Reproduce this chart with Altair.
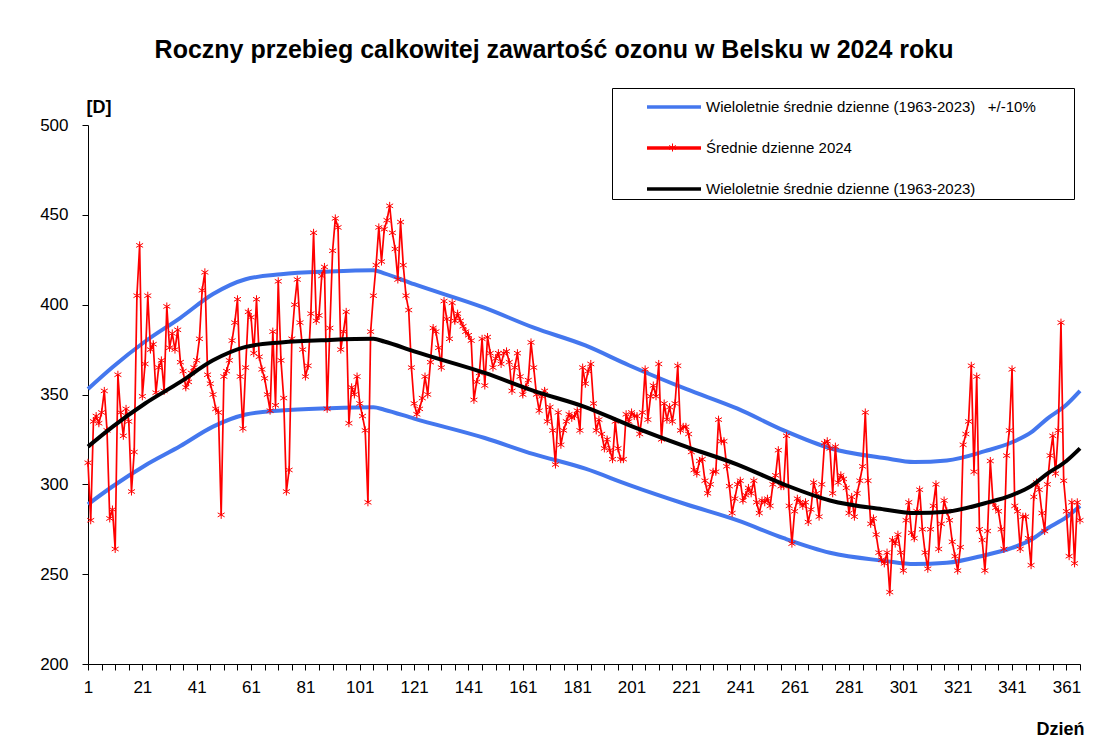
import altair as alt
import pandas as pd

LBL_BLUE = "Wieloletnie średnie dzienne (1963-2023)\u00a0\u00a0\u00a0+/-10%"
LBL_RED = "Średnie dzienne 2024"
LBL_BLACK = "Wieloletnie średnie dzienne (1963-2023)"

TITLE = "Roczny przebieg calkowitej zawartość ozonu w Belsku w 2024 roku"

days = list(range(1, 367))
ozone_2024 = [
    312, 280, 335, 338, 334, 340, 352, 330, 281, 286,
    264, 361, 340, 327, 342, 335, 296, 318, 405, 433,
    349, 367, 405, 375, 378, 351, 365, 369, 352, 399,
    376, 384, 375, 386, 368, 363, 354, 357, 362, 365,
    369, 381, 408, 418, 361, 356, 350, 342, 340, 283,
    360, 363, 369, 380, 390, 403, 360, 331, 365, 396,
    393, 373, 403, 371, 364, 359, 350, 341, 385, 344,
    413, 369, 348, 296, 308, 381, 400, 414, 390, 375,
    360, 366, 395, 440, 391, 394, 416, 421, 342, 387,
    430, 448, 443, 375, 385, 396, 334, 354, 350, 360,
    345, 338, 330, 290, 385, 405, 422, 443, 424, 442,
    447, 455, 440, 431, 414, 446, 422, 405, 397, 365,
    345, 339, 342, 348, 360, 350, 368, 387, 385, 376,
    365, 402, 392, 381, 401, 391, 395, 391, 388, 385,
    383, 380, 347, 357, 362, 381, 355, 382, 373, 365,
    370, 373, 367, 373, 374, 368, 352, 365, 373, 360,
    350, 354, 358, 379, 365, 350, 341, 349, 352, 335,
    343, 330, 311, 340, 322, 330, 335, 339, 337, 338,
    341, 330, 365, 356, 363, 367, 345, 330, 336, 328,
    320, 325, 319, 314, 335, 320, 314, 314, 339, 335,
    340, 338, 338, 328, 340, 364, 336, 349, 355, 349,
    367, 325, 345, 336, 343, 335, 345, 366, 330, 332,
    332, 328, 318, 308, 306, 313, 314, 302, 295, 300,
    307, 307, 336, 324, 324, 310, 299, 284, 292, 300,
    302, 291, 294, 298, 295, 302, 290, 284, 291, 290,
    292, 288, 300, 305, 319, 299, 299, 327, 288, 267,
    285, 292, 290, 288, 290, 279, 286, 301, 295, 282,
    300, 323, 324, 320, 295, 321, 301, 305, 303, 298,
    284, 293, 282, 295, 302, 310, 340, 302, 278, 281,
    272, 262, 258, 256, 262, 240, 269, 267, 272, 262,
    252, 280, 290, 273, 270, 285, 297, 275, 262, 253,
    275, 288, 300, 264, 278, 291, 285, 280, 268, 260,
    252, 265, 322, 328, 335, 366, 307, 360, 275, 269,
    252, 274, 313, 290, 287, 285, 275, 264, 316, 330,
    364, 288, 285, 264, 282, 282, 270, 255, 293, 301,
    297, 284, 274, 300, 316, 327, 306, 330, 390, 302,
    285, 260, 290, 256, 290, 280,
]

mean_days = [1, 10, 22, 35, 47, 59, 72, 90, 106, 110, 121, 147, 165, 184,
             200, 221, 240, 257, 274, 294, 305, 317, 331, 341, 348, 354, 361, 366]
mean_vals = [321, 332, 345, 357, 369, 376.5, 379, 380.4, 381, 379.5, 374, 362,
             352, 343, 333, 321, 311, 300, 291, 286, 284, 284.8, 289.5, 294,
             299, 306, 313, 320]

x_tick_values = list(range(1, 367, 5))
y_tick_values = [200, 250, 300, 350, 400, 450, 500]

ASTERISK = "M0,-1L0,1M-0.87,-0.5L0.87,0.5M-0.87,0.5L0.87,-0.5"
LEGEND_LINE = "M-1.8,0L1.8,0"

ozone_df = pd.DataFrame({"day": days, "value": ozone_2024})
ozone_df["series"] = LBL_RED
mean_df = pd.DataFrame({"day": mean_days, "mean": mean_vals})

FONT = "Liberation Sans"

color_scale = alt.Scale(domain=[LBL_BLUE, LBL_RED, LBL_BLACK],
                        range=["#4477EE", "#FF0000", "#000000"])

legend = alt.Legend(
    orient="none", legendX=524, legendY=-37,
    title=".", titleOrient="right", titleColor="white", titleFontSize=8,
    titlePadding=33,
    strokeColor="black", fillColor="white", padding=2,
    symbolType=LEGEND_LINE, symbolSize=900, symbolStrokeWidth=3.5,
    symbolOffset=43, labelOffset=15, rowPadding=16,
    labelFont=FONT, labelFontSize=15, labelColor="black", labelLimit=700,
)

star_legend = alt.Legend(
    orient="none", legendX=580, legendY=18, title=None, padding=0,
    symbolSize=64, symbolStrokeWidth=1, symbolStrokeColor="#FF0000",
    symbolFillColor="transparent", labelExpr="''", labelFontSize=8,
    symbolOffset=0, labelOffset=0,
)

x_enc = alt.X(
    "day:Q",
    scale=alt.Scale(domain=[1, 366], nice=False, zero=False),
    axis=alt.Axis(
        values=x_tick_values, format="d",
        labelExpr="((datum.value - 1) % 20 == 0) ? datum.label : ''",
        labelOverlap=False, labelFlush=False, tickSize=6, labelPadding=9,
        title="Dzień", titleAnchor="end", titleAlign="right", titleX=996,
        titleY=70, titleBaseline="alphabetic",
    ),
)
y_scale = alt.Scale(domain=[200, 500], nice=False, zero=False)
y_axis = alt.Axis(
    values=y_tick_values, tickSize=6, labelPadding=14,
    title="[D]", titleAngle=0, titleAlign="left", titleX=-2, titleY=-13,
    titleBaseline="alphabetic",
)


def series_color():
    return alt.Color("series:N", scale=color_scale, legend=legend)


blue_upper = alt.Chart(mean_df).transform_calculate(
    series=f"'{LBL_BLUE}'", upper="datum.mean * 1.1"
).mark_line(strokeWidth=4, interpolate="monotone").encode(
    x=x_enc, y=alt.Y("upper:Q", scale=y_scale, axis=y_axis),
    color=series_color(),
)
blue_lower = alt.Chart(mean_df).transform_calculate(
    series=f"'{LBL_BLUE}'", lower="datum.mean * 0.9"
).mark_line(strokeWidth=4, interpolate="monotone").encode(
    x=x_enc, y=alt.Y("lower:Q", scale=y_scale, axis=y_axis),
    color=series_color(),
)
red_line = alt.Chart(ozone_df).mark_line(strokeWidth=1.7).encode(
    x=x_enc, y=alt.Y("value:Q", scale=y_scale, axis=y_axis),
    color=series_color(),
)
red_pts = alt.Chart(ozone_df).mark_point(
    size=64, filled=False, strokeWidth=1, color="#FF0000", opacity=1
).encode(
    x=x_enc, y=alt.Y("value:Q", scale=y_scale, axis=y_axis),
    shape=alt.Shape("series:N", scale=alt.Scale(domain=[LBL_RED], range=[ASTERISK]),
                    legend=star_legend),
)
black_line = alt.Chart(mean_df).transform_calculate(
    series=f"'{LBL_BLACK}'"
).mark_line(strokeWidth=4, interpolate="monotone").encode(
    x=x_enc, y=alt.Y("mean:Q", scale=y_scale, axis=y_axis),
    color=series_color(),
)

chart = alt.layer(blue_upper, blue_lower, red_line, red_pts, black_line).properties(
    width=992, height=539,
    autosize=alt.AutoSizeParams(type="none"),
    padding={"left": 80, "top": 117, "right": 6, "bottom": 80},
    title=alt.TitleParams(
        text=TITLE, font=FONT, fontSize=25, fontWeight="bold", color="black",
        anchor="middle", dx=-30, offset=25,
    ),
    background="white",
).configure_axis(
    grid=False, domainColor="black", tickColor="black", domainWidth=1,
    labelFont=FONT, labelFontSize=17, labelColor="black",
    titleFont=FONT, titleFontSize=18, titleFontWeight="bold", titleColor="black",
).configure_view(stroke=None)

chart.save("out.html", embed_options={"renderer": "svg", "actions": False})
